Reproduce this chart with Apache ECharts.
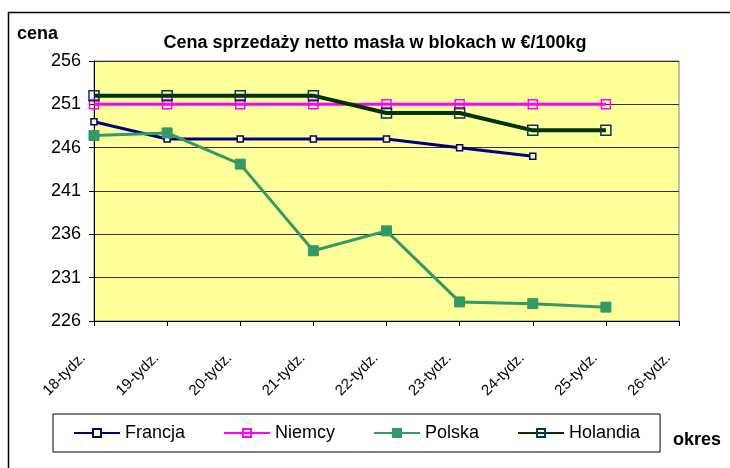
<!DOCTYPE html>
<html>
<head>
<meta charset="utf-8">
<script src="https://cdn.jsdelivr.net/npm/echarts@6/dist/echarts.min.js"></script>
<style>
  html, body { margin: 0; padding: 0; background: #fff; }
  #chart { width: 730px; height: 468px; }
</style>
</head>
<body>
<div id="chart"></div>
<script>
const weeks = ['18-tydz.', '19-tydz.', '20-tydz.', '21-tydz.', '22-tydz.', '23-tydz.', '24-tydz.', '25-tydz.', '26-tydz.']
const francja = [249, 247, 247, 247, 247, 246, 245, null, null]
const niemcy = [251, 251, 251, 251, 251, 251, 251, 251, null]
const polska = [247.4, 247.7, 244.1, 234.1, 236.4, 228.2, 228.0, 227.6, null]
const holandia = [252, 252, 252, 252, 250, 250, 248, 248, null]

const arial = "'Liberation Sans', Arial, sans-serif"

const chart = echarts.init(document.getElementById('chart'))

const option = {
  animation: false,
  title: {
    text: 'Cena sprzedaży netto masła w blokach w €/100kg',
    left: 370,
    textAlign: 'center',
    top: 29,
    textStyle: { fontFamily: arial, fontSize: 18, fontWeight: 'bold', color: '#000' }
  },
  graphic: [
    {
      type: 'rect',
      shape: { x: 8.5, y: 12.5, width: 740, height: 470 },
      style: { fill: 'none', stroke: '#000', lineWidth: 1.5 },
      silent: true
    },
    {
      type: 'text',
      left: 17,
      top: 25,
      style: { text: 'cena', font: 'bold 18px ' + arial, fill: '#000' }
    },
    {
      type: 'text',
      left: 673,
      top: 431,
      z: 100,
      style: { text: 'okres', font: 'bold 18px ' + arial, fill: '#000' }
    }
  ],
  legend: {
    left: 53,
    top: 414,
    padding: [10, 20],
    itemGap: 38,
    itemWidth: 46,
    itemHeight: 10,
    borderColor: '#000',
    borderWidth: 1,
    backgroundColor: '#fff',
    textStyle: { fontFamily: arial, fontSize: 18, color: '#000' },
    data: ['Francja', 'Niemcy', 'Polska', 'Holandia']
  },
  grid: {
    left: 94,
    right: 51,
    top: 61,
    bottom: 147,
    show: true,
    backgroundColor: '#FFFF99',
    borderColor: '#808080',
    borderWidth: 1
  },
  xAxis: {
    type: 'category',
    boundaryGap: false,
    data: weeks,
    axisLine: { lineStyle: { color: '#000', width: 1 } },
    axisTick: { show: true, length: 5, lineStyle: { color: '#000' } },
    axisLabel: {
      rotate: 45,
      margin: 24,
      padding: [0, 15, 0, 0],
      interval: 0,
      fontFamily: arial,
      fontSize: 15,
      color: '#000'
    },
    splitLine: { show: false }
  },
  yAxis: {
    type: 'value',
    min: 226,
    max: 256,
    interval: 5,
    axisLine: { show: true, lineStyle: { color: '#000', width: 1 } },
    axisTick: { show: true, length: 5, lineStyle: { color: '#000' } },
    axisLabel: { margin: 13, fontFamily: arial, fontSize: 18, color: '#000' },
    splitLine: { lineStyle: { color: '#333', width: 1 } }
  },
  series: [
    {
      name: 'Francja',
      type: 'line',
      data: francja,
      symbol: 'rect',
      symbolSize: 6,
      showAllSymbol: true,
      lineStyle: { color: '#000080', width: 3 },
      itemStyle: { color: '#FFFF99', borderColor: '#000080', borderWidth: 1.5 }
    },
    {
      name: 'Niemcy',
      type: 'line',
      data: niemcy,
      symbol: 'rect',
      symbolSize: 9,
      showAllSymbol: true,
      lineStyle: { color: '#FF00FF', width: 3 },
      itemStyle: { color: 'transparent', borderColor: '#FF00FF', borderWidth: 1.5 }
    },
    {
      name: 'Polska',
      type: 'line',
      data: polska,
      symbol: 'rect',
      symbolSize: 10,
      showAllSymbol: true,
      lineStyle: { color: '#339966', width: 3 },
      itemStyle: { color: '#339966', borderColor: '#339966', borderWidth: 1 }
    },
    {
      name: 'Holandia',
      type: 'line',
      data: holandia,
      symbol: 'rect',
      symbolSize: 10,
      showAllSymbol: true,
      lineStyle: { color: '#003300', width: 4 },
      itemStyle: { color: 'transparent', borderColor: '#003366', borderWidth: 1.5 }
    }
  ]
}

chart.setOption(option)
</script>
</body>
</html>
